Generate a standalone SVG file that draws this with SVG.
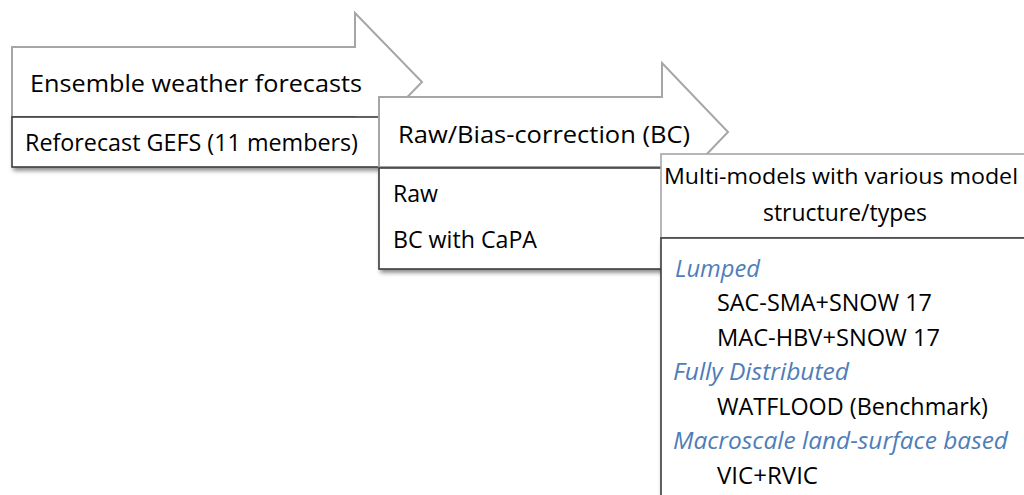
<svg xmlns="http://www.w3.org/2000/svg" width="1024" height="495" viewBox="0 0 1024 495">
<defs>
<filter id="sh" x="-5%" y="-10%" width="115%" height="130%">
<feDropShadow dx="2" dy="3" stdDeviation="2" flood-color="#000" flood-opacity="0.45"/>
</filter>
<style>
.arrow{fill:#fff;stroke:#a6a6a6;stroke-width:2;stroke-linejoin:miter}
.box{fill:#fff;stroke:#3c3c3c;stroke-width:1.6}
.hdr{fill:#fff;stroke:#a6a6a6;stroke-width:1.6}
text{font-family:"Open Sans","Liberation Sans",sans-serif;font-size:24px;fill:#000}
.cat{font-style:italic;fill:#4f7db8}
</style>
</defs>
<rect width="1024" height="495" fill="#fff"/>
<g id="connectors"></g>
<g id="node-ensemble">
<path class="arrow" d="M12,47 H355 V13 L422,82 L355,151 V117 H12 Z"/>
<text x="30" y="92" textLength="332" lengthAdjust="spacingAndGlyphs">Ensemble weather forecasts</text>
</g>
<g id="node-reforecast">
<rect class="box" x="12" y="117" width="372" height="50" filter="url(#sh)"/>
<text x="25" y="151" textLength="333" lengthAdjust="spacingAndGlyphs">Reforecast GEFS (11 members)</text>
</g>
<g id="node-rawbc">
<path class="arrow" d="M379,97 H662 V63 L728,132 L662,201 V167 H379 Z"/>
<text x="398" y="143" textLength="292" lengthAdjust="spacingAndGlyphs">Raw/Bias-correction (BC)</text>
</g>
<g id="node-rawbc-list">
<rect class="box" x="379" y="168" width="290" height="101" filter="url(#sh)"/>
<text x="393" y="202" textLength="45" lengthAdjust="spacingAndGlyphs">Raw</text>
<text x="393" y="248" textLength="144" lengthAdjust="spacingAndGlyphs">BC with CaPA</text>
</g>
<g id="node-multimodels">
<rect class="hdr" x="661" y="154" width="380" height="84"/>
<text x="841" y="184" text-anchor="middle" style="font-size:22.5px" textLength="354" lengthAdjust="spacingAndGlyphs">Multi-models with various model</text>
<text x="845" y="221" text-anchor="middle" textLength="164" lengthAdjust="spacingAndGlyphs">structure/types</text>
</g>
<g id="node-models-list">
<rect class="box" x="661" y="238" width="380" height="270" filter="url(#sh)"/>
<text class="cat" x="675" y="277" textLength="85" lengthAdjust="spacingAndGlyphs">Lumped</text>
<text x="717" y="311" textLength="215" lengthAdjust="spacingAndGlyphs">SAC-SMA+SNOW 17</text>
<text x="717" y="346" textLength="223" lengthAdjust="spacingAndGlyphs">MAC-HBV+SNOW 17</text>
<text class="cat" x="673" y="380" textLength="176" lengthAdjust="spacingAndGlyphs">Fully Distributed</text>
<text x="717" y="415" textLength="271" lengthAdjust="spacingAndGlyphs">WATFLOOD (Benchmark)</text>
<text class="cat" x="673" y="449" textLength="335" lengthAdjust="spacingAndGlyphs">Macroscale land-surface based</text>
<text x="717" y="484" textLength="101" lengthAdjust="spacingAndGlyphs">VIC+RVIC</text>
</g>
</svg>
